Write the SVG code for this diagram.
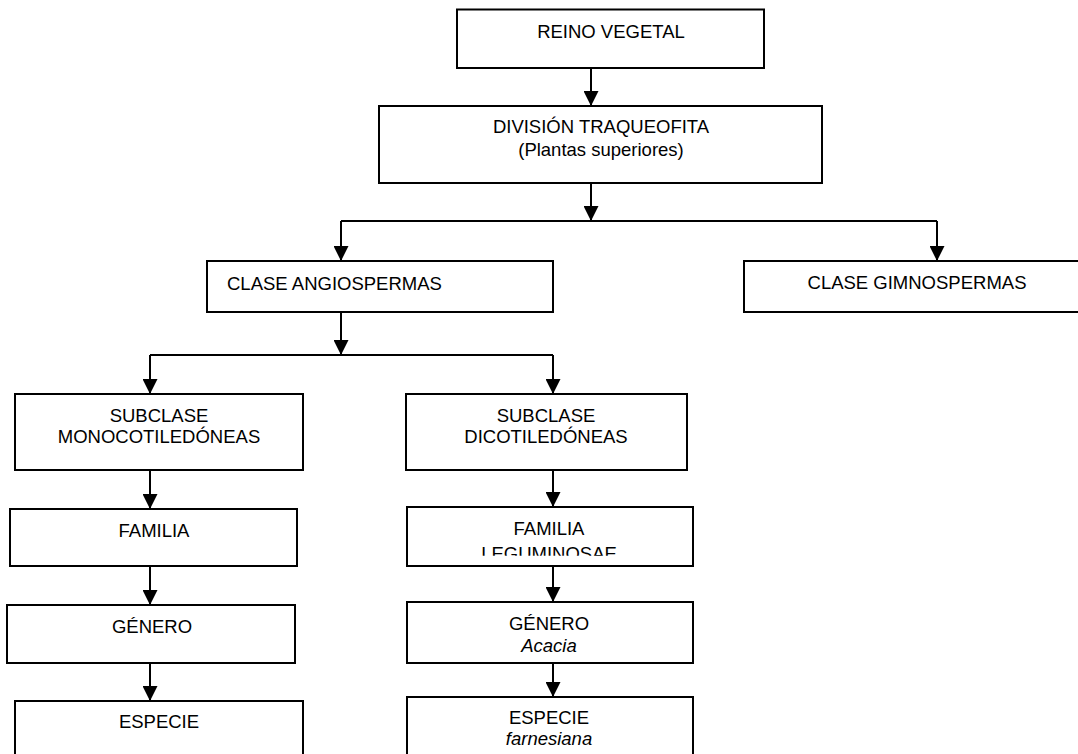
<svg xmlns="http://www.w3.org/2000/svg" width="1078" height="754" viewBox="0 0 1078 754">
  <defs>
    <style>
      .box { fill: #ffffff; stroke: #000000; stroke-width: 2; }
      .lbl { font-family: "Liberation Sans", Arial, sans-serif; font-size: 18.5px; fill: #000000; }
      .c { text-anchor: middle; }
      .it { font-style: italic; }
      .conn { fill: none; stroke: #000000; stroke-width: 2; }
    </style>
    <marker id="arr" markerUnits="userSpaceOnUse" markerWidth="16" markerHeight="15" refX="15" refY="7.5" orient="auto">
      <path d="M0,0 L15,7.5 L0,15 z" fill="#000000"/>
    </marker>
    <clipPath id="clipLeg">
      <rect x="400" y="500" width="300" height="55.7"/>
    </clipPath>
  </defs>
  <rect width="1078" height="754" fill="#ffffff"/>

  <g id="connectors">
    <line class="conn" x1="591" y1="68" x2="591" y2="106" marker-end="url(#arr)"/>
    <line class="conn" x1="591" y1="183" x2="591" y2="221" marker-end="url(#arr)"/>
    <polyline class="conn" points="341,221 937,221"/>
    <line class="conn" x1="341" y1="221" x2="341" y2="261" marker-end="url(#arr)"/>
    <line class="conn" x1="937" y1="221" x2="937" y2="261" marker-end="url(#arr)"/>
    <line class="conn" x1="341" y1="312" x2="341" y2="355" marker-end="url(#arr)"/>
    <polyline class="conn" points="150,355 553,355"/>
    <line class="conn" x1="150" y1="355" x2="150" y2="394" marker-end="url(#arr)"/>
    <line class="conn" x1="553" y1="355" x2="553" y2="394" marker-end="url(#arr)"/>
    <line class="conn" x1="150" y1="470" x2="150" y2="509" marker-end="url(#arr)"/>
    <line class="conn" x1="150" y1="566" x2="150" y2="605" marker-end="url(#arr)"/>
    <line class="conn" x1="150" y1="663" x2="150" y2="701" marker-end="url(#arr)"/>
    <line class="conn" x1="553" y1="470" x2="553" y2="507" marker-end="url(#arr)"/>
    <line class="conn" x1="553" y1="566" x2="553" y2="602" marker-end="url(#arr)"/>
    <line class="conn" x1="553" y1="663" x2="553" y2="697" marker-end="url(#arr)"/>
  </g>

  <g id="reino">
    <rect class="box" x="457" y="9.5" width="307" height="58.5"/>
    <text class="lbl c" x="611" y="38">REINO VEGETAL</text>
  </g>

  <g id="division">
    <rect class="box" x="379" y="106" width="443" height="77"/>
    <text class="lbl c" x="601" y="133">DIVISIÓN TRAQUEOFITA</text>
    <text class="lbl c" x="601" y="156">(Plantas superiores)</text>
  </g>

  <g id="angiospermas">
    <rect class="box" x="207" y="261" width="346" height="51"/>
    <text class="lbl" x="227" y="290">CLASE ANGIOSPERMAS</text>
  </g>

  <g id="gimnospermas">
    <rect class="box" x="744" y="261" width="340" height="51"/>
    <text class="lbl c" x="917" y="289">CLASE GIMNOSPERMAS</text>
  </g>

  <g id="monocotiledoneas">
    <rect class="box" x="15" y="394" width="288" height="76"/>
    <text class="lbl c" x="159" y="422">SUBCLASE</text>
    <text class="lbl c" x="159" y="443">MONOCOTILEDÓNEAS</text>
  </g>

  <g id="familia-mono">
    <rect class="box" x="10" y="509" width="287" height="57"/>
    <text class="lbl c" x="154" y="537">FAMILIA</text>
  </g>

  <g id="genero-mono">
    <rect class="box" x="7" y="605" width="288" height="58"/>
    <text class="lbl c" x="152" y="633">GÉNERO</text>
  </g>

  <g id="especie-mono">
    <rect class="box" x="15" y="701" width="288" height="60"/>
    <text class="lbl c" x="159" y="728">ESPECIE</text>
  </g>

  <g id="dicotiledoneas">
    <rect class="box" x="406" y="394" width="281" height="76"/>
    <text class="lbl c" x="546" y="422">SUBCLASE</text>
    <text class="lbl c" x="546" y="443">DICOTILEDÓNEAS</text>
  </g>

  <g id="familia-leguminosae">
    <rect class="box" x="407" y="507" width="286" height="59"/>
    <text class="lbl c" x="549" y="535">FAMILIA</text>
    <text class="lbl c" x="549" y="560" clip-path="url(#clipLeg)">LEGUMINOSAE</text>
  </g>

  <g id="genero-acacia">
    <rect class="box" x="407" y="602" width="286" height="61"/>
    <text class="lbl c" x="549" y="630">GÉNERO</text>
    <text class="lbl c it" x="549" y="652">Acacia</text>
  </g>

  <g id="especie-farnesiana">
    <rect class="box" x="407" y="697" width="286" height="64"/>
    <text class="lbl c" x="549" y="724">ESPECIE</text>
    <text class="lbl c it" x="549" y="745">farnesiana</text>
  </g>
</svg>
